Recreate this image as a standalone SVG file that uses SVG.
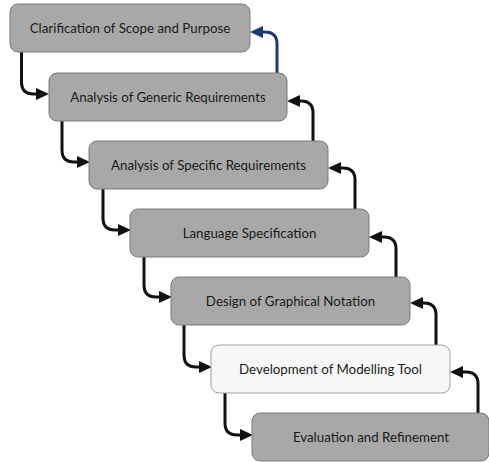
<svg xmlns="http://www.w3.org/2000/svg" width="489" height="462" viewBox="0 0 489 462">
<style>
.box{fill:#a8a8a8;stroke:#7a7a7a;stroke-width:1}
.light{fill:#f7f7f7;stroke:#a0a0a0;stroke-width:1}
.lbl{font-family:Lato,"Liberation Sans",sans-serif;font-size:13.3px;fill:#1a1a1a;text-anchor:middle;dominant-baseline:central}
.c{fill:none;stroke:#111;stroke-width:3;marker-end:url(#ah)}
.cb{fill:none;stroke:#1f3a6e;stroke-width:3;marker-end:url(#ahb)}
</style>
<defs>
<marker id="ah" markerUnits="userSpaceOnUse" markerWidth="13" markerHeight="12" refX="6" refY="6" orient="auto" overflow="visible"><path d="M0,0 L13,6 L0,12 z" fill="#111"/></marker>
<marker id="ahb" markerUnits="userSpaceOnUse" markerWidth="13" markerHeight="12" refX="6" refY="6" orient="auto" overflow="visible"><path d="M0,0 L13,6 L0,12 z" fill="#1f3a6e"/></marker>
</defs>
<g id="connectors">
<path class="c" d="M21.5,52 V82 Q21.5,94 33.5,94 H42"/>
<path class="c" d="M62,121 V150 Q62,162 74,162 H83"/>
<path class="c" d="M103,189 V218 Q103,230 115,230 H124"/>
<path class="c" d="M144,257 V285 Q144,297 156,297 H165"/>
<path class="c" d="M184,325 V355 Q184,367 196,367 H205"/>
<path class="c" d="M225,393 V423 Q225,435 237,435 H246"/>
<path class="cb" d="M277,73 V44 Q277,32 265,32 H257"/>
<path class="c" d="M313,141 V113 Q313,101 301,101 H294"/>
<path class="c" d="M355,209 V180 Q355,168 343,168 H335"/>
<path class="c" d="M396,277 V249 Q396,237 384,237 H376"/>
<path class="c" d="M436,345 V315 Q436,303 424,303 H417"/>
<path class="c" d="M478,413 V384 Q478,372 466,372 H457"/>
</g>
<g id="n1"><rect class="box" x="10" y="4" width="240" height="48" rx="8"/><text class="lbl" x="130" y="28">Clarification of Scope and Purpose</text></g>
<g id="n2"><rect class="box" x="49" y="73" width="238" height="48" rx="8"/><text class="lbl" x="168" y="97">Analysis of Generic Requirements</text></g>
<g id="n3"><rect class="box" x="89" y="141" width="239" height="48" rx="8"/><text class="lbl" x="208.5" y="165">Analysis of Specific Requirements</text></g>
<g id="n4"><rect class="box" x="130" y="209" width="239" height="48" rx="8"/><text class="lbl" x="249.5" y="233">Language Specification</text></g>
<g id="n5"><rect class="box" x="171" y="277" width="239" height="48" rx="8"/><text class="lbl" x="290.5" y="301">Design of Graphical Notation</text></g>
<g id="n6"><rect class="light" x="211" y="345" width="239" height="48" rx="8"/><text class="lbl" x="330.5" y="369">Development of Modelling Tool</text></g>
<g id="n7"><rect class="box" x="252" y="413" width="237" height="48" rx="8"/><text class="lbl" x="371" y="437">Evaluation and Refinement</text></g>
</svg>
